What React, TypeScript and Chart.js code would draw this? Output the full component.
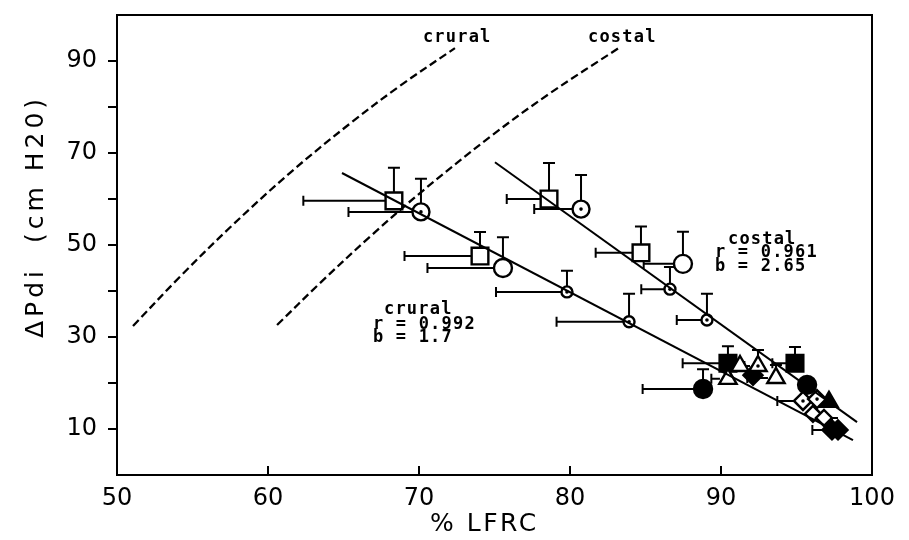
import React, { useEffect, useRef } from 'react';
import { Chart, registerables } from 'chart.js';

Chart.register(...registerables);

// ---------- data ----------
const xTickValues = [50, 60, 70, 80, 90, 100];
const yLabelValues = [10, 30, 50, 70, 90];

// dashed isopleth curves
const cruralCurveX = [51.06, 54.17, 57.48, 61.46, 65.43, 68.74, 72.38];
const cruralCurveY = [32.4, 43.1, 53.8, 65.7, 76.4, 84.6, 92.8];
const costalCurveX = [60.6, 63.44, 66.75, 70.07, 74.7, 78.68, 83.31];
const costalCurveY = [32.6, 41.7, 51.8, 61.3, 73.5, 83.0, 93.0];

// regression lines
const cruralFitX = [64.9, 98.74];
const cruralFitY = [65.65, 7.6];
const costalFitX = [75.03, 99.01];
const costalFitY = [68.0, 11.5];

// symbols: value, left error (x), upper error (y)
const sqOpenX = [68.34, 74.04, 78.61, 84.7];
const sqOpenY = [59.6, 47.6, 60.0, 48.3];
const sqOpenXErr = [6.0, 5.0, 2.8, 3.0];
const sqOpenYErr = [7.2, 5.2, 7.8, 5.7];

const circDotX = [70.13, 80.73];
const circDotY = [57.2, 57.8];
const circDotXErr = [4.8, 3.1];
const circDotYErr = [7.2, 7.4];

const circOpenX = [75.56, 87.48];
const circOpenY = [45.0, 45.9];
const circOpenXErr = [5.0, 2.6];
const circOpenYErr = [6.7, 7.0];

const smallDotX = [79.8, 83.91, 86.62, 89.07];
const smallDotY = [39.8, 33.3, 40.4, 33.7];
const smallDotXErr = [4.7, 4.8, 1.9, 2.0];
const smallDotYErr = [4.6, 6.1, 4.8, 5.7];

const circFillX = [88.81, 95.7];
const circFillY = [18.7, 19.6];
const circFillXErr = [4.0, 0];
const circFillYErr = [4.3, 0];

const sqFillX = [90.46, 94.9];
const sqFillY = [24.3, 24.3];
const sqFillXErr = [3.0, 1.5];
const sqFillYErr = [3.7, 3.5];

const triOpenX = [90.46, 91.26, 93.64];
const triOpenY = [20.9, 23.7, 21.1];
const triOpenXErr = [1.1, 0, 1.9];
const triOpenYErr = [0, 0, 2.8];

const triDotX = [92.45];
const triDotY = [23.7];
const triDotXErr = [0.9];
const triDotYErr = [3.5];

const triFillX = [97.15];
const triFillY = [15.9];
const triFillXErr = [0];
const triFillYErr = [0];

const diaFillX = [92.12, 97.35, 97.75];
const diaFillY = [21.7, 9.8, 9.8];
const diaFillXErr = [0, 1.3, 0];
const diaFillYErr = [0, 2.6, 0];

const diaDotX = [95.43, 96.36];
const diaDotY = [16.1, 16.5];
const diaDotXErr = [1.7, 0];
const diaDotYErr = [0, 0];

const diaOpenX = [96.09, 96.82];
const diaOpenY = [13.3, 12.4];
const diaOpenXErr = [0, 0];
const diaOpenYErr = [0, 0];

const annotationTexts = ['crural', 'costal', 'crural', 'r = 0.992', 'b = 1.7', 'costal', 'r = 0.961', 'b = 2.65'];
const annotationAnchorX = [70.26, 81.19, 67.68, 66.95, 66.95, 90.46, 89.6, 89.6];
const annotationAnchorY = [95.2, 95.2, 35.9, 32.8, 29.8, 51.1, 48.4, 45.4];

const xTitle = '% LFRC';
const yTitle = 'ΔPdi  (cm H20)';

// ---------- helpers ----------
const pts = (xs: number[], ys: number[]) => xs.map((x, i) => ({ x, y: ys[i] }));

function marker(xs: number[], ys: number[], xe: number[], ye: number[], style: string, radius: number, filled: boolean, edge: number) {
  return {
    data: pts(xs, ys),
    showLine: false,
    pointStyle: style,
    pointRadius: radius,
    pointBorderWidth: 2.4,
    pointBorderColor: '#000',
    pointBackgroundColor: filled ? '#000' : '#fff',
    order: 2,
    xErr: xe,
    yErr: ye,
    edge,
  };
}

function dots(xs: number[], ys: number[]) {
  return {
    data: pts(xs, ys),
    showLine: false,
    pointStyle: 'circle',
    pointRadius: 1.8,
    pointBorderWidth: 0,
    pointBackgroundColor: '#000',
    order: 1,
  };
}

function line(xs: number[], ys: number[], dashed: boolean) {
  return {
    data: pts(xs, ys),
    showLine: true,
    pointRadius: 0,
    borderColor: '#000',
    borderWidth: dashed ? 2.3 : 2,
    borderDash: dashed ? [8, 4] : [],
    tension: dashed ? 0.35 : 0,
    order: 0,
  };
}

const decorPlugin = {
  id: 'decor',
  beforeDatasetsDraw(chart: any) {
    const ctx = chart.ctx;
    const xs = chart.scales.x;
    const ys = chart.scales.y;
    ctx.save();
    ctx.strokeStyle = '#000';
    ctx.lineWidth = 2;
    chart.data.datasets.forEach((ds: any) => {
      if (!ds.xErr) return;
      ds.data.forEach((p: any, i: number) => {
        const px = xs.getPixelForValue(p.x);
        const py = ys.getPixelForValue(p.y);
        const ex = ds.xErr[i];
        const ey = ds.yErr[i];
        if (ex > 0) {
          const lx = xs.getPixelForValue(p.x - ex);
          ctx.beginPath();
          ctx.moveTo(px - ds.edge, py);
          ctx.lineTo(lx, py);
          ctx.moveTo(lx, py - 5);
          ctx.lineTo(lx, py + 5);
          ctx.stroke();
        }
        if (ey > 0) {
          const ty = ys.getPixelForValue(p.y + ey);
          ctx.beginPath();
          ctx.moveTo(px, py - ds.edge);
          ctx.lineTo(px, ty);
          ctx.moveTo(px - 6, ty);
          ctx.lineTo(px + 6, ty);
          ctx.stroke();
        }
      });
    });
    ctx.restore();
  },
  afterDraw(chart: any) {
    const ctx = chart.ctx;
    const { left, right, top, bottom } = chart.chartArea;
    const xs = chart.scales.x;
    const ys = chart.scales.y;
    ctx.save();
    ctx.strokeStyle = '#000';
    ctx.lineWidth = 2;
    ctx.strokeRect(left, top, right - left, bottom - top);
    ctx.beginPath();
    for (let v = 10; v <= 90; v += 10) {
      const py = ys.getPixelForValue(v);
      ctx.moveTo(left, py);
      ctx.lineTo(left - 9, py);
    }
    for (let v = 60; v <= 90; v += 10) {
      const px = xs.getPixelForValue(v);
      ctx.moveTo(px, bottom);
      ctx.lineTo(px, bottom - 9);
    }
    ctx.stroke();

    // axis titles
    ctx.fillStyle = '#000';
    ctx.font = '25px "DejaVu Sans"';
    (ctx as any).letterSpacing = '2.5px';
    ctx.textAlign = 'left';
    ctx.textBaseline = 'middle';
    ctx.fillText(xTitle, 430, 524);
    ctx.save();
    ctx.translate(36, 338);
    ctx.rotate(-Math.PI / 2);
    (ctx as any).letterSpacing = '4px';
    ctx.fillText(yTitle, 0, 0);
    ctx.restore();

    // annotations
    ctx.font = 'bold 17px "DejaVu Sans Mono"';
    (ctx as any).letterSpacing = '1.2px';
    annotationTexts.forEach((t, i) => {
      ctx.fillText(t, xs.getPixelForValue(annotationAnchorX[i]), ys.getPixelForValue(annotationAnchorY[i]));
    });
    ctx.restore();
  },
};

export default function App() {
  const ref = useRef<HTMLCanvasElement>(null);
  useEffect(() => {
    if (!ref.current) return;
    const tickFont = { family: 'DejaVu Sans', size: 24 };
    const chart = new Chart(ref.current, {
      type: 'scatter',
      data: {
        datasets: [
          line(cruralCurveX, cruralCurveY, true),
          line(costalCurveX, costalCurveY, true),
          line(cruralFitX, cruralFitY, false),
          line(costalFitX, costalFitY, false),
          dots(circDotX, circDotY),
          dots(smallDotX, smallDotY),
          dots(triDotX, triDotY),
          dots(diaDotX, diaDotY),
          marker(sqOpenX, sqOpenY, sqOpenXErr, sqOpenYErr, 'rect', 11.8, false, 8.5),
          marker(circDotX, circDotY, circDotXErr, circDotYErr, 'circle', 8.5, false, 8.5),
          marker(circOpenX, circOpenY, circOpenXErr, circOpenYErr, 'circle', 9, false, 9),
          marker(smallDotX, smallDotY, smallDotXErr, smallDotYErr, 'circle', 5.5, false, 5.5),
          marker(triOpenX, triOpenY, triOpenXErr, triOpenYErr, 'triangle', 10, false, 8),
          marker(triDotX, triDotY, triDotXErr, triDotYErr, 'triangle', 10, false, 8),
          marker(diaDotX, diaDotY, diaDotXErr, diaDotYErr, 'rectRot', 9, false, 8),
          marker(diaOpenX, diaOpenY, diaOpenXErr, diaOpenYErr, 'rectRot', 8, false, 8),
          marker(sqFillX, sqFillY, sqFillXErr, sqFillYErr, 'rect', 11.8, true, 8.5),
          marker(circFillX, circFillY, circFillXErr, circFillYErr, 'circle', 9, true, 9),
          marker(triFillX, triFillY, triFillXErr, triFillYErr, 'triangle', 10, true, 8),
          marker(diaFillX, diaFillY, diaFillXErr, diaFillYErr, 'rectRot', 9.5, true, 9.5),
        ] as any,
      },
      options: {
        animation: false,
        responsive: false,
        events: [],
        layout: { padding: { left: 0, right: 37, top: 15, bottom: 0 } },
        plugins: { legend: { display: false }, tooltip: { enabled: false } },
        scales: {
          x: {
            type: 'linear',
            min: 50,
            max: 100,
            afterBuildTicks: (s: any) => { s.ticks = xTickValues.map((v) => ({ value: v })); },
            ticks: { font: tickFont, color: '#000', padding: 1, maxRotation: 0, autoSkip: false },
            grid: { display: false },
            border: { display: false },
            afterFit: (s: any) => { s.height = 65; s.paddingLeft = 0; s.paddingRight = 0; },
          },
          y: {
            type: 'linear',
            min: 0,
            max: 100,
            afterBuildTicks: (s: any) => { s.ticks = yLabelValues.map((v) => ({ value: v })); },
            ticks: { font: tickFont, color: '#000', padding: 12, autoSkip: false },
            grid: { display: false },
            border: { display: false },
            afterFit: (s: any) => { s.width = 117; s.paddingTop = 0; s.paddingBottom = 0; },
          },
        },
      } as any,
      plugins: [decorPlugin],
    });
    return () => chart.destroy();
  }, []);
  return (
    <div style={{ position: 'absolute', left: 0, top: 0, width: 909, height: 540, background: '#fff' }}>
      <canvas ref={ref} width={909} height={540} style={{ display: 'block' }} />
    </div>
  );
}
